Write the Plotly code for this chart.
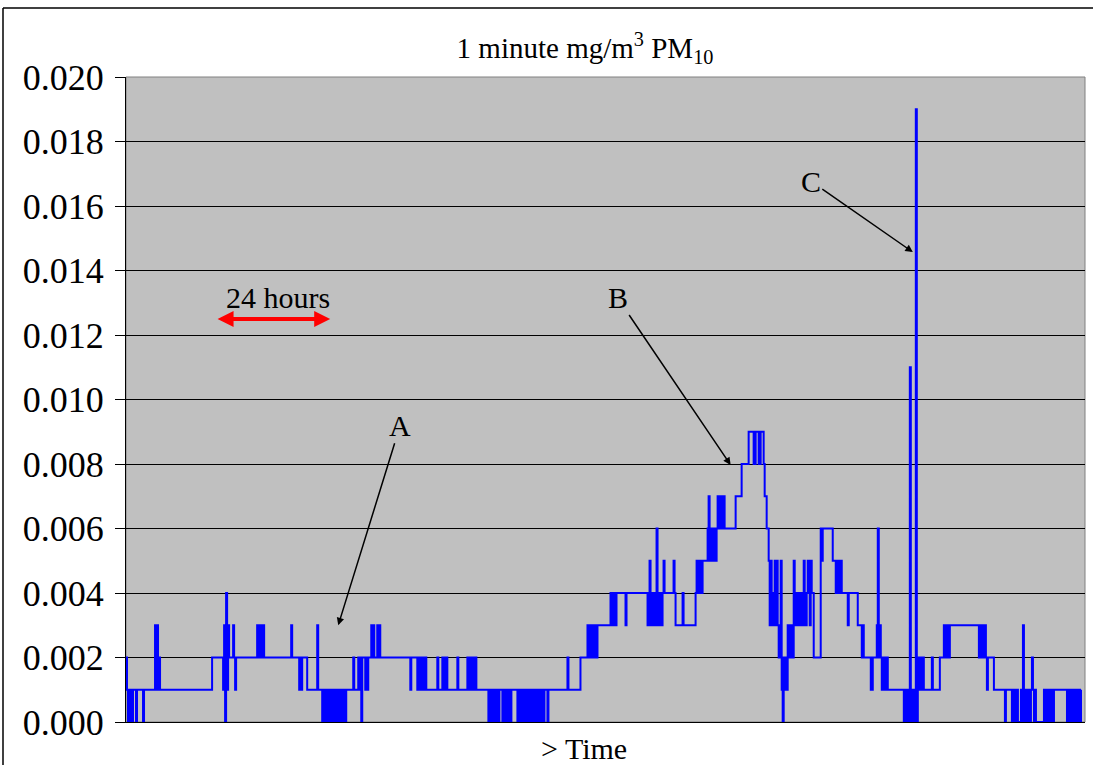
import plotly.graph_objects as go

# Step series: sample index where a new level starts, and the level (ug/m3 = 0.001 mg/m3)
change_sample = [
    0, 1, 2, 3, 4, 5, 6, 7, 10, 11, 17, 18, 29, 30, 31, 32, 33, 34, 86, 97, 98, 99, 100, 101, 102, 103,
    107, 108, 109, 110, 131, 132, 133, 134, 135, 136, 137, 138, 165, 166, 173, 174, 175, 176, 181, 191, 192,
    196, 197, 198, 199, 200, 201, 202, 203, 204, 205, 206, 207, 208, 209, 211, 212, 213, 214, 215, 216, 217,
    218, 219, 220, 227, 228, 232, 234, 235, 236, 239, 240, 241, 242, 245, 246, 247, 248, 251, 252, 253, 254,
    284, 285, 291, 292, 294, 295, 296, 297, 298, 299, 300, 311, 312, 316, 317, 318, 319, 320, 321, 331, 332,
    341, 342, 343, 344, 345, 346, 347, 348, 349, 350, 362, 363, 364, 365, 366, 367, 368, 369, 370, 371, 372,
    373, 376, 377, 378, 379, 380, 381, 382, 383, 384, 385, 391, 392, 393, 394, 395, 396, 397, 398, 399, 400,
    401, 402, 403, 404, 405, 406, 407, 408, 409, 410, 411, 412, 413, 414, 415, 416, 417, 418, 421, 422, 441,
    442, 454, 461, 462, 463, 464, 465, 466, 467, 468, 469, 470, 471, 484, 485, 486, 487, 488, 489, 490, 499,
    500, 521, 522, 523, 524, 525, 526, 527, 528, 529, 530, 531, 532, 533, 534, 535, 536, 537, 538, 547, 548,
    549, 556, 557, 569, 570, 571, 572, 573, 574, 575, 576, 581, 582, 583, 584, 585, 586, 587, 588, 589, 590,
    591, 592, 593, 595, 596, 598, 609, 615, 622, 627, 629, 632, 634, 637, 638,
    640, 642, 643, 644, 645, 646, 647, 648, 649, 650, 651, 652, 653, 654, 655, 656, 657, 658, 659, 660, 661,
    662, 663, 664, 665, 666, 667, 668, 669, 670, 671, 672, 673, 674, 675, 676, 677, 678, 679, 680, 681, 682,
    683, 684, 685, 687, 694, 695, 696, 706, 709, 710, 711, 712, 713, 714, 715, 721, 722, 731, 735, 736, 737,
    744, 746, 750, 751, 752, 753, 754, 755, 756, 757, 758, 759, 760, 761, 777, 778, 779, 780, 781, 782, 783,
    784, 785, 786, 787, 788, 789, 790, 791, 792, 793, 794, 795, 796, 797, 805, 806, 813, 817, 818, 819, 820,
    821, 822, 823, 852, 853, 854, 855, 857, 858, 859, 860, 861, 867, 878, 879, 885, 886, 887, 888, 889, 890,
    891, 894, 895, 896, 897, 898, 899, 900, 901, 902, 903, 904, 905, 906, 907, 908, 909, 917, 918, 919, 920,
    921, 922, 923, 924, 925, 926, 927, 940, 941, 942, 943, 944, 945, 946, 947, 949, 950, 951, 952, 953, 954,
    955, 956, 957, 958,
]
pm10_ugm3 = [
    2, 1, 0, 1, 0, 1, 0, 1, 0, 1, 0, 1, 3, 1, 3, 1, 2, 1, 2, 1, 3, 0, 4, 1, 3, 2,
    3, 2, 1, 2, 3, 2, 3, 2, 3, 2, 3, 2, 3, 2, 1, 2, 1, 2, 1, 3, 1,
    0, 1, 0, 1, 0, 1, 0, 1, 0, 1, 0, 1, 0, 1, 0, 1, 0, 1, 0, 1, 0,
    1, 0, 1, 2, 1, 2, 1, 0, 2, 1, 2, 1, 2, 3, 2, 3, 2, 3, 2, 3, 2,
    1, 2, 1, 2, 1, 2, 1, 2, 1, 2, 1, 2, 1, 2, 1, 2, 1, 2, 1, 2, 1,
    2, 1, 2, 1, 2, 1, 2, 1, 2, 1, 0, 1, 0, 1, 0, 1, 0, 1, 0, 1, 0,
    1, 0, 1, 0, 1, 0, 1, 0, 1, 0, 1, 0, 1, 0, 1, 0, 1, 0, 1, 0, 1,
    0, 1, 0, 1, 0, 1, 0, 1, 0, 1, 0, 1, 0, 1, 0, 1, 0, 1, 0, 1, 2,
    1, 2, 3, 2, 3, 2, 3, 2, 3, 2, 3, 2, 3, 4, 3, 4, 3, 4, 3, 4, 3,
    4, 3, 4, 5, 3, 4, 3, 4, 3, 4, 6, 3, 4, 3, 4, 3, 4, 5, 4, 5, 4,
    3, 4, 3, 4, 5, 4, 5, 4, 5, 4, 5, 6, 7, 5, 6, 5, 6, 5, 6, 5, 6,
    7, 6, 7, 6, 7, 6, 7, 8, 9, 8, 9, 8, 9, 8, 7,
    6, 5, 3, 5, 3, 4, 3, 5, 3, 5, 3, 2, 3, 5, 1, 0, 2, 1, 2, 1, 3,
    2, 3, 2, 3, 2, 5, 3, 4, 3, 4, 3, 4, 3, 4, 3, 5, 4, 3, 4, 5, 4,
    3, 5, 4, 2, 6, 5, 6, 5, 4, 5, 4, 5, 4, 5, 4, 3, 4, 3, 2, 3, 2,
    1, 2, 3, 6, 2, 3, 2, 1, 2, 1, 2, 1, 2, 1, 0, 1, 0, 1, 0, 1, 11,
    0, 1, 0, 1, 0, 19, 0, 1, 2, 1, 2, 1, 2, 1, 2, 1, 2, 3, 2, 3, 2,
    3, 2, 3, 2, 3, 2, 3, 2, 3, 2, 1, 2, 1, 0, 1, 0, 1, 0, 1,
    0, 1, 0, 1, 0, 3, 0, 1, 0, 1, 0, 1, 0, 1, 2, 1, 0, 1, 0, 1, 0,
    1, 0, 1, 0, 1, 0, 1, 0, 1, 0, 1, 0, 1, 0, 1, 0, 1, 0, 1,
    0, 1, 0, 1,
]

y_ticks = [0.000, 0.002, 0.004, 0.006, 0.008, 0.010, 0.012, 0.014, 0.016, 0.018, 0.020]
y_tick_text = ["0.000", "0.002", "0.004", "0.006", "0.008", "0.010", "0.012", "0.014", "0.016", "0.018", "0.020"]

values_mg = [v / 1000 for v in pm10_ugm3]

SERIF = "Liberation Serif, Times New Roman, serif"

fig = go.Figure()
fig.add_trace(go.Scatter(
    x=change_sample, y=values_mg, mode="lines",
    line=dict(color="#0000FF", width=2, shape="hv"),
    hoverinfo="skip", showlegend=False,
))

# plot geometry (pixels)
L, R, T, B = 126, 1085, 77, 722
W, H = 1093, 765
pw, ph = R - L, B - T


def px(xp):
    return (xp - L) / pw


def py(yp):
    return (B - yp) / ph


fig.update_layout(
    width=W, height=H,
    margin=dict(l=L, r=W - R, t=T, b=H - B, pad=0),
    paper_bgcolor="white", plot_bgcolor="#C0C0C0",
    font=dict(family=SERIF, color="black", size=30),
    title=dict(
        text="1 minute mg/m<sup>3</sup> PM<sub>10</sub>",
        x=px(585), xref="paper", xanchor="center",
        y=1 - 48 / H, yref="container", yanchor="middle",
        font=dict(family=SERIF, size=29, color="black"),
    ),
    xaxis=dict(
        range=[0, 958], showticklabels=False, showgrid=False, zeroline=False,
        showline=True, linecolor="black", linewidth=1, ticks="",
    ),
    yaxis=dict(
        range=[0, 0.020], tickvals=y_ticks, ticktext=y_tick_text,
        showgrid=True, gridcolor="black", gridwidth=1, zeroline=False,
        showline=True, linecolor="black", linewidth=1,
        ticks="outside", ticklen=10, tickcolor="black", tickwidth=1,
        ticklabelstandoff=4,
        tickfont=dict(family=SERIF, size=36, color="black"),
    ),
    shapes=[
        dict(type="rect", xref="paper", yref="paper", x0=0, x1=1, y0=0, y1=1,
             line=dict(color="#808080", width=1), layer="below"),
        dict(type="line", xref="paper", yref="paper", x0=px(3), x1=px(3), y0=py(8), y1=py(800),
             line=dict(color="black", width=1.5)),
        dict(type="line", xref="paper", yref="paper", x0=px(3), x1=px(1093), y0=py(8), y1=py(8),
             line=dict(color="black", width=1.5)),
    ],
)

ann_font = dict(family=SERIF, size=30, color="black")
fig.add_annotation(x=212, y=0.0030, ax=62, ay=-200, text="A", font=ann_font,
                   showarrow=True, arrowhead=2, arrowsize=1, arrowwidth=1.5, arrowcolor="black", standoff=0)
fig.add_annotation(x=604, y=0.00797, ax=-113, ay=-167, text="B", font=ann_font,
                   showarrow=True, arrowhead=2, arrowsize=1, arrowwidth=1.5, arrowcolor="black", standoff=0)
fig.add_annotation(x=786, y=0.01457, ax=-102, ay=-71, text="C", font=ann_font,
                   showarrow=True, arrowhead=2, arrowsize=1, arrowwidth=1.5, arrowcolor="black", standoff=0)
# 24 hours double arrow
fig.add_annotation(x=204, y=0.0125, ax=90, ay=0.0125, axref="x", ayref="y", text="",
                   showarrow=True, arrowside="end+start", arrowhead=2, arrowsize=0.8,
                   arrowwidth=4, arrowcolor="#FF0000", standoff=0, startstandoff=0)
fig.add_annotation(x=152, y=0.01315, text="24 hours", showarrow=False, font=ann_font,
                   xanchor="center", yanchor="middle")
fig.add_annotation(x=px(584), y=py(748), xref="paper", yref="paper", text="&gt; Time",
                   showarrow=False, font=ann_font, xanchor="center", yanchor="middle")

# remove the browser's default page margin so the figure sits at the window's top-left corner
fig.write_html("out.html", config={"displayModeBar": False},
               post_script="document.body.style.margin='0';")
